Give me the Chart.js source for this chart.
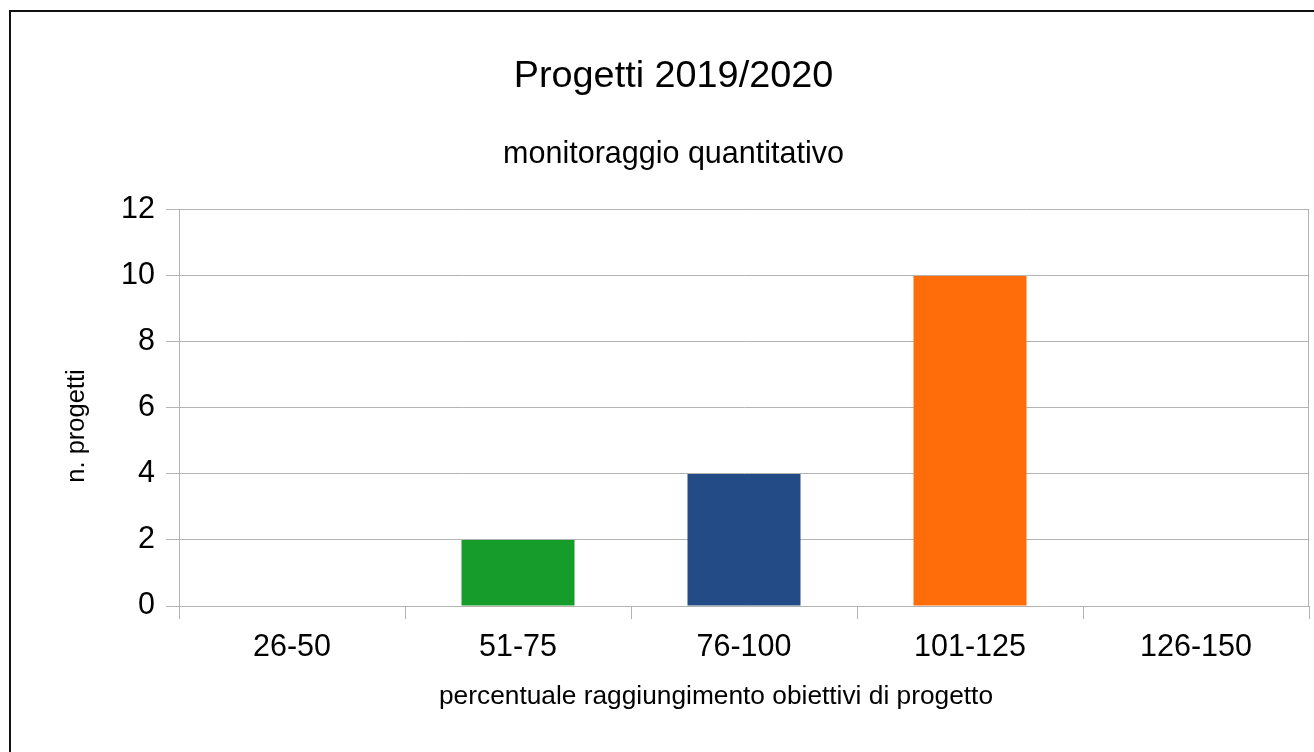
<!DOCTYPE html>
<html>
<head>
<meta charset="utf-8">
<script src="https://cdn.jsdelivr.net/npm/chart.js@4/dist/chart.umd.min.js"></script>
<style>
  html, body { margin: 0; padding: 0; background: #fff; }
  #wrap { position: relative; width: 1314px; height: 752px; overflow: hidden; }
  #frame { position: absolute; left: 9px; top: 10px; width: 1400px; height: 800px;
           border-left: 2px solid #111; border-top: 2px solid #111; box-sizing: border-box; }
  canvas { position: absolute; left: 0; top: 0; }
</style>
</head>
<body>
<div id="wrap">
  <div id="frame"></div>
  <canvas id="c" width="1314" height="752"></canvas>
</div>
<script>
const categories = ['26-50', '51-75', '76-100', '101-125', '126-150'];
const projectCounts = [0, 2, 4, 10, 0];
const yTicks = [0, 2, 4, 6, 8, 10, 12];
const chartTitle = 'Progetti 2019/2020';
const chartSubtitle = 'monitoraggio quantitativo';
const xTitle = 'percentuale raggiungimento obiettivi di progetto';
const yTitle = 'n. progetti';

const barColors = ['#004586', '#169c2a', '#234b86', '#ff6d0a', '#ffd320'];
const gridColor = '#b3b3b3';
const FONT = "'Liberation Sans', Arial, sans-serif";

const frameExtras = {
  id: 'frameExtras',
  afterDraw(chart) {
    const a = chart.chartArea, ctx = chart.ctx;
    ctx.save();
    // right edge of plot area
    ctx.strokeStyle = gridColor;
    ctx.lineWidth = 1;
    ctx.beginPath();
    const x = Math.round(a.right) - 0.5;
    ctx.moveTo(x, a.top);
    ctx.lineTo(x, a.bottom);
    ctx.stroke();
    // axis titles (positioned as in the original office chart)
    ctx.fillStyle = '#000';
    ctx.font = '26.3px ' + FONT;
    ctx.textAlign = 'center';
    ctx.textBaseline = 'middle';
    ctx.fillText(xTitle, 716, 697);
    ctx.translate(77, 426);
    ctx.rotate(-Math.PI / 2);
    ctx.font = '25.5px ' + FONT;
    ctx.fillText(yTitle, 0, 0);
    ctx.restore();
  }
};

new Chart(document.getElementById('c'), {
  type: 'bar',
  data: {
    labels: categories,
    datasets: [{
      data: projectCounts,
      backgroundColor: barColors,
      borderWidth: 0,
      categoryPercentage: 0.5,
      barPercentage: 1.0
    }]
  },
  options: {
    responsive: false,
    animation: false,
    devicePixelRatio: 1,
    layout: { padding: { top: 0, left: 38, right: 5, bottom: 0 } },
    plugins: {
      legend: { display: false },
      tooltip: { enabled: false },
      title: {
        display: true,
        text: chartTitle,
        color: '#000',
        font: { family: FONT, size: 37.8, weight: 'normal', lineHeight: 1.2 },
        padding: { top: 54.3, bottom: 18 }
      },
      subtitle: {
        display: true,
        text: chartSubtitle,
        color: '#000',
        font: { family: FONT, size: 30.5, weight: 'normal', lineHeight: 1.2 },
        padding: { top: 19, bottom: 36.7 }
      }
    },
    scales: {
      x: {
        afterFit(s) { s.height = 146; },
        grid: { offset: true, drawOnChartArea: false, tickLength: 13, color: gridColor, lineWidth: 1 },
        border: { display: true, color: gridColor, width: 1 },
        ticks: { color: '#000', padding: 10, font: { family: FONT, size: 30.5 }, maxRotation: 0 },
        title: { display: false }
      },
      y: {
        min: 0, max: 12,
        afterFit(s) { s.width = 141; },
        afterBuildTicks(s) { s.ticks = yTicks.map(v => ({ value: v })); },
        grid: { color: gridColor, lineWidth: 1, tickLength: 13 },
        border: { display: true, color: gridColor, width: 1 },
        ticks: { color: '#000', padding: 11, font: { family: FONT, size: 30.5 } },
        title: { display: false }
      }
    }
  },
  plugins: [frameExtras]
});
</script>
</body>
</html>
